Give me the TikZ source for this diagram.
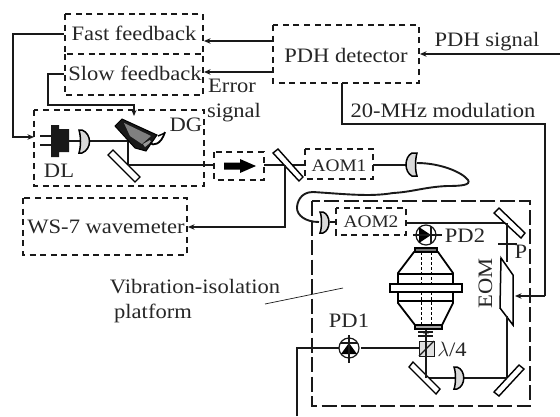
\documentclass[tikz,border=0pt]{standalone}
\usepackage{fontspec}
\setmainfont[FakeStretch=1.1]{Liberation Serif}
\usetikzlibrary{arrows.meta}
\tikzset{
 x=1pt,y=-1pt,
 lbl/.style={inner sep=0pt,anchor=base,font=\fontsize{20.5}{22}\selectfont,text=black!85},
 small lbl/.style={lbl,font=\fontsize{17.6}{18}\selectfont},
 dbox/.style={draw=black!90,line width=1.5pt,dash pattern=on 6pt off 4.6pt},
 ldash/.style={draw=black!90,line width=1.8pt,dash pattern=on 15pt off 4.5pt},
 wire/.style={draw=black!90,line width=1.1pt},
 heavy wire/.style={draw=black!90,line width=1.9pt},
 arr/.style={wire,-{Stealth[length=6.5pt,width=5.5pt]}},
 mirror/.style={draw=black,line width=1.4pt,fill=white},
 lensf/.style={draw=black,line width=1.5pt,fill=black!15},
 pdcirc/.style={circle,draw=black!90,line width=1.2pt,minimum size=20pt,inner sep=0pt},
 cav/.style={draw=black,line width=1.8pt,fill=white},
}
\begin{document}
\begin{tikzpicture}
\useasboundingbox (0,0) rectangle (560,416);
\fill[white] (0,0) rectangle (560,416);
% boxes
\coordinate (ff1) at (65,14); \coordinate (ff2) at (203,54);
\draw[dbox] (ff1) rectangle (ff2);
\draw[dbox] (65,54) -- (65,95) -- (203,95) -- (203,54);
\draw[dbox] (273,25) rectangle (419,83);
\draw[dbox] (34,110) rectangle (204,186);
\draw[dbox] (214,152) rectangle (264,180);
\draw[dbox] (305,149) rectangle (373,179);
\draw[dbox] (23,198) rectangle (187,255);
\draw[ldash] (312,201) rectangle (530,406);
\draw[dbox] (336,208) rectangle (406,235);
% labels
\node[lbl] (fast) at (134,40) {Fast feedback};
\node[lbl] (slow) at (135,80) {Slow feedback};
\node[lbl] (pdh) at (346,62) {PDH detector};
\node[lbl] (psig) at (487,46) {PDH signal};
\node[lbl] (mod) at (443,117) {20-MHz modulation};
\node[lbl] (err) at (232,92) {Error};
\node[lbl] (sig) at (234,117) {signal};
\node[lbl] (dg) at (186,131) {DG};
\node[lbl] (dl) at (59,177) {DL};
\node[small lbl] (aom1) at (339,171) {AOM1};
\node[small lbl] (aom2) at (371,227) {AOM2};
\node[lbl] (wm) at (106,233) {WS-7 wavemeter};
\node[lbl] (pd2) at (465,242) {PD2};
\node[lbl] (p) at (521,258) {P};
\node[lbl,rotate=90] (eom) at (492,283) {EOM};
\node[lbl] (vib) at (195,293) {Vibration-isolation};
\node[lbl] (plat) at (153,318) {platform};
\node[lbl] (pd1) at (349,327) {PD1};
\node[lbl] (lam) at (452,356) {\(\lambda\)/4};
% feedback connectors
\draw[arr] (64,34) -- (13,34) -- (13,137) -- (34,137);
\draw[heavy wire,-{Stealth[length=6pt,width=5pt]}] (64,74) -- (48,74) -- (48,105) -- (134,105) -- (134,116);
\draw[arr] (273,41) -- (204,41);
\draw[arr] (273,72) -- (204,72);
\draw[arr] (560,54) -- (420,54);
\draw[wire] (342,83) -- (342,124) -- (545,124) -- (545,296);
\draw[arr] (545,296) -- (515,296);
% DL
\draw[wire] (40,136) -- (51,136) (40,145) -- (51,145);
\fill[black!90] (51,125) rectangle (59,157) (59,129) rectangle (69,152);
\draw[wire] (69,141) -- (128,141);
\draw[lensf] (79,130) -- (82,130) .. controls (92,134) and (92,149) .. (82,153) -- (79,153) .. controls (81,146) and (81,137) .. (79,130) -- cycle;
% DG
\draw[wire] (128,141) -- (128,165);
\draw[draw=black,fill=black!90,line width=1pt] (115,126) -- (122,119) -- (157,135) -- (146,151) -- (135,148) -- cycle;
\fill[black!50] (124,123) -- (151,136) -- (142,144) -- (130,136) -- cycle;
\fill[black!40] (143,144) -- (150,140) -- (151,142) -- (145,147) -- cycle;
\draw[draw=black,line width=1.8pt] (150,143) .. controls (153,146) and (161,145) .. (165,132);
\draw[draw=black,line width=1.4pt] (158,136) -- (165,133);
% mirror & beam
\draw[mirror] (108,155) -- (113,150) -- (140,177) -- (135,182) -- cycle;
\draw[wire] (128,165) -- (214,165);
\fill[black] (224,162.5) rectangle (240,169.5) (240,159) -- (256,166) -- (240,173) -- cycle;
\draw[wire] (264,165) -- (305,165);
% BS after isolator
\draw[mirror] (273,153) -- (278,149) -- (303,177) -- (299,181) -- cycle;
\draw[arr] (285,165) -- (285,227) -- (188,227);
% AOM1 fibre
\draw[heavy wire] (373,165) -- (408,165);
\draw[lensf] (417,153) -- (412,153) .. controls (404,157) and (404,172) .. (412,176) -- (417,176) .. controls (415,170) and (415,160) .. (417,153) -- cycle;
\draw[heavy wire] (417,163) .. controls (440,163) and (462,172) .. (468,180) .. controls (471,185) and (462,186) .. (447,186) .. controls (425,187) and (412,192) .. (393,193) .. controls (370,197) and (345,194) .. (313,192) .. controls (300,192) and (297,203) .. (297,208) .. controls (297,215) and (305,222) .. (319,222);
% AOM2 lens
\draw[lensf] (320,212) -- (323,212) .. controls (331,215) and (331,230) .. (323,233) -- (320,233) .. controls (322,228) and (322,216) .. (320,212) -- cycle;
\draw[wire] (330,222) -- (336,222);
\draw[wire] (406,223) -- (507,223);
\draw[mirror] (494,213) -- (499,208) -- (525,233) -- (521,238) -- cycle;
% right path
\draw[wire] (507,223) -- (507,262);
\draw[wire] (498,244) -- (517,244);
\draw[draw=black,line width=1.5pt,fill=white] (501,258) -- (513,275) -- (513,325) -- (500,308) -- cycle;
\draw[wire] (507,316) -- (507,378);
\draw[mirror] (494,392) -- (519,365) -- (524,369) -- (499,396) -- cycle;
\draw[wire] (426,378) -- (507,378);
\draw[lensf] (454,367) -- (457,367) .. controls (466,370) and (466,386) .. (457,389) -- (454,389) .. controls (456,384) and (456,372) .. (454,367) -- cycle;
\draw[mirror] (409,367) -- (413,362) -- (440,389) -- (436,394) -- cycle;
% lambda/4 cube
\draw[wire] (426,378) -- (426,356);
\draw[draw=black!90,line width=1pt,fill=black!12] (419,341) rectangle (434,356);
\draw[wire] (419,356) -- (434,341);
\draw[wire] (426,341) -- (426,356);
\draw[wire] (418,332) -- (433,332);
\draw[wire] (418,336) -- (433,336);
\draw[wire,-{Stealth[length=5pt,width=5pt]}] (426,341) -- (426,329);
% photodiode 1
\draw[wire] (361,348) -- (419,348);
\draw[wire] (297,416) -- (297,348) -- (339,348);
\node[pdcirc] (pdone) at (349,348) {};
\fill[black] (341,354) -- (357,354) -- (349,343) -- cycle;
\draw[wire] (341,343) -- (357,343);
\draw[wire] (349,335) -- (349,363);
% photodiode 2
\node[pdcirc] (pdtwo) at (426,235) {};
\fill[black] (419,227) -- (419,243) -- (431,235) -- cycle;
\draw[wire] (431,226) -- (431,244);
\draw[wire] (413,235) -- (442,235);
% cavity
\draw[draw=black,line width=1.4pt,fill=black!55] (415,248) rectangle (437,252);
\draw[cav] (414,252) -- (438,252) -- (453,273) -- (453,303) -- (442,325) -- (415,325) -- (398,303) -- (398,273) -- cycle;
\draw[draw=black,line width=1.6pt] (398,274) -- (453,274) (398,301) -- (453,301);
\draw[draw=black,line width=1.5pt,fill=white] (390,284) rectangle (462,292);
\draw[draw=black,line width=1.5pt,fill=black!35] (415,325) rectangle (442,329);
\draw[black,line width=1pt,dash pattern=on 2.5pt off 2.5pt] (421,252) -- (421,284) (431,252) -- (431,284) (421,292) -- (421,325) (431,292) -- (431,325);
% platform pointer
\draw[wire,line width=.7pt] (265,304) -- (343,288);
\end{tikzpicture}
\end{document}
